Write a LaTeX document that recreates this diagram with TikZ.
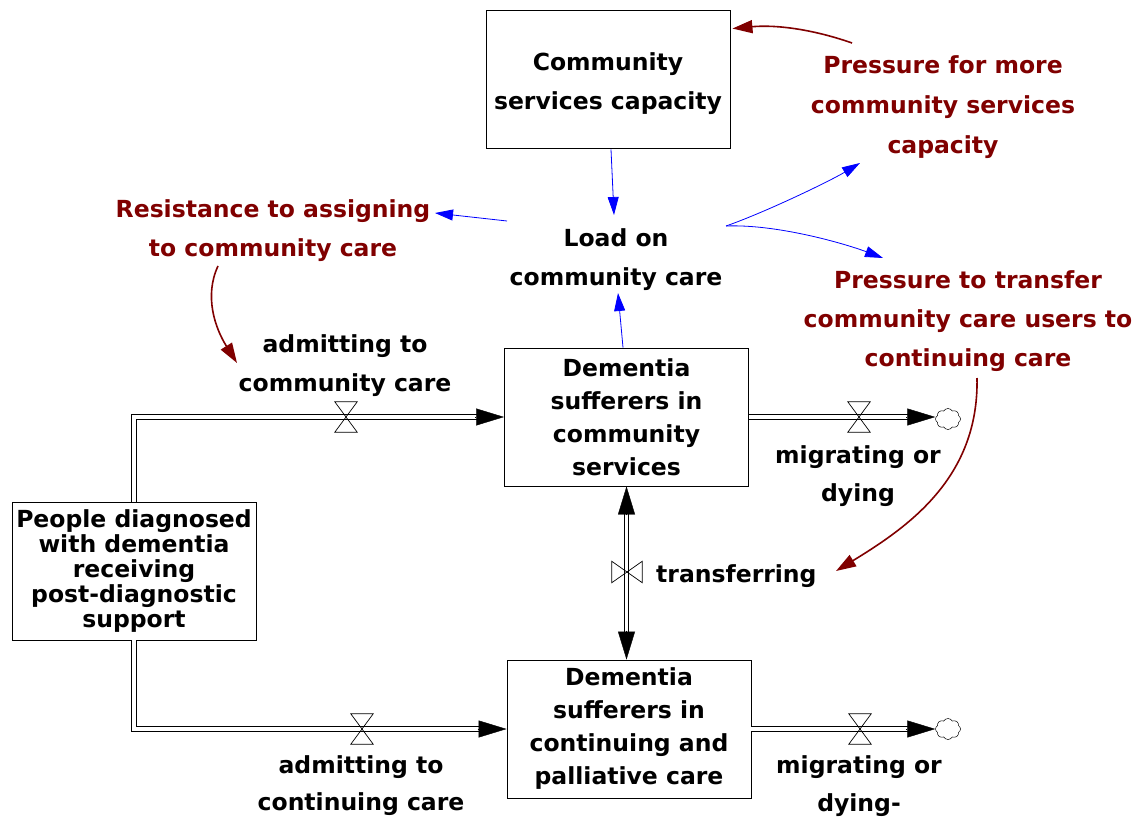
\documentclass[tikz,border=0pt]{standalone}
\usepackage{fontspec}
\setmainfont{DejaVu Sans}
\usetikzlibrary{arrows.meta,shapes.symbols,calc}
\definecolor{linkred}{HTML}{800000}
\definecolor{linkblue}{HTML}{0000FF}

\begin{document}
\begin{tikzpicture}[x=1pt,y=-1pt,
  every node/.style={font=\bfseries\fontsize{23.5}{39}\selectfont, align=center, inner sep=0pt},
  stock/.style={draw, line width=0.9pt, minimum width=244pt, minimum height=138pt},
  redtext/.style={text=linkred},
  valvebox/.style={minimum width=22pt, minimum height=30pt},
  valvehbox/.style={minimum width=30pt, minimum height=21pt},
  valveline/.style={draw, line width=0.7pt},
  pipe/.style={draw, line width=0.9pt, double=white, double distance=3.4pt},
  flowtip/.style={line width=0.4pt, -{Triangle[length=28pt,width=17pt]}},
  sink/.style={cloud, cloud puffs=8, cloud puff arc=120, aspect=1.2, draw, line width=0.5pt,
               minimum width=25pt, minimum height=21pt},
  redlink/.style={draw=linkred, line width=1.6pt, -{Triangle[length=20pt,width=13pt]}, color=linkred},
  bluelink/.style={draw=linkblue, line width=0.8pt, -{Triangle[length=18pt,width=11pt]}, color=linkblue}
]
\useasboundingbox (0,0) rectangle (1139,818);

% stocks
\node[stock] (csc) at (608,79) {};
\node (csctext) at (608,84) {Community\\services capacity};
\node[stock, font=\bfseries\fontsize{23.5}{33}\selectfont] (dsc) at (626.5,417)
  {Dementia\\sufferers in\\community\\services};
\node[stock, font=\bfseries\fontsize{23.5}{33}\selectfont] (dcp) at (629,729)
  {Dementia\\sufferers in\\continuing and\\palliative care};
\node[stock, font=\bfseries\fontsize{23.5}{25}\selectfont] (ppl) at (134,571)
  {People diagnosed\\with dementia\\receiving\\post-diagnostic\\support};

% auxiliaries
\node (load) at (616,260) {Load on\\community care};
\node[redtext, font=\bfseries\fontsize{23.5}{40}\selectfont] (pfm) at (943,107)
  {Pressure for more\\community services\\capacity};
\node[redtext] (ptt) at (968,321)
  {Pressure to transfer\\community care users to\\continuing care};
\node[redtext] (res) at (273,231) {Resistance to assigning\\to community care};

% flow labels
\node (admcc) at (345,366) {admitting to\\community care};
\node[font=\bfseries\fontsize{23.5}{37}\selectfont] (admct) at (361,786) {admitting to\\continuing care};
\node[font=\bfseries\fontsize{23.5}{38}\selectfont] (mig1) at (858,476) {migrating or\\dying};
\node[font=\bfseries\fontsize{23.5}{38}\selectfont] (mig2) at (859,786) {migrating or\\dying-};
\node[anchor=west] (trans) at (656,576) {transferring};

% clouds
\node[sink] (cl1) at (948,419) {};
\node[sink] (cl2) at (948,729) {};

% pipes
\draw[pipe, shorten >=26pt] (ppl.north) |- (dsc.west);
\draw[flowtip] ($(dsc.west)+(-29,0)$) -- (dsc.west);
\draw[pipe, shorten >=26pt] (ppl.south) |- (dcp.west);
\draw[flowtip] ($(dcp.west)+(-29,0)$) -- (dcp.west);
\draw[pipe, shorten >=26pt] (dsc.east) -- (dsc.east -| cl1.west);
\draw[flowtip] ($(dsc.east -| cl1.west)+(-29,0)$) -- (dsc.east -| cl1.west);
\draw[pipe, shorten >=26pt] (dcp.east) -- (dcp.east -| cl2.west);
\draw[flowtip] ($(dcp.east -| cl2.west)+(-29,0)$) -- (dcp.east -| cl2.west);
\draw[pipe, shorten <=26pt, shorten >=26pt] (dsc.south) -- (dsc.south |- dcp.north);
\draw[flowtip] ($(dsc.south)+(0,29)$) -- (dsc.south);
\draw[flowtip] ($(dsc.south |- dcp.north)+(0,-29)$) -- (dsc.south |- dcp.north);

% valves
\node[valvebox] (v1) at (346,417) {};
\node[valvebox] (v2) at (362,729) {};
\node[valvebox] (v3) at (859,417) {};
\node[valvebox] (v4) at (860,729) {};
\node[valvehbox] (vt) at (627,572) {};
\foreach \v in {v1,v2,v3,v4}
  \draw[valveline] (\v.north west) -- (\v.north east) -- (\v.south west) -- (\v.south east) -- cycle;
\draw[valveline] (vt.north west) -- (vt.south west) -- (vt.north east) -- (vt.south east) -- cycle;

% information links
\draw[bluelink] ($(csc.south)+(3,1)$) -- ($(load.center)+(-2,-45)$);
\draw[bluelink] ($(dsc.north)+(-3.5,0)$) -- ($(load.center)+(2,33)$);
\draw[bluelink] ($(load.center)+(-109,-39)$) -- ($(res.center)+(162,-18)$);
\draw[bluelink] ($(load.center)+(110,-34)$) .. controls +(40,-14) and +(-30,18) .. ($(pfm.center)+(-83,56)$);
\draw[bluelink] ($(load.center)+(110,-34)$) .. controls +(50,-2) and +(-40,-15) .. ($(ptt.center)+(-85,-63)$);

\draw[redlink] ($(pfm.center)+(-91,-64)$) .. controls +(-40,-14) and +(43,-4) .. ($(csc.north east)+(2,19)$);
\draw[redlink] ($(ptt.center)+(9,57)$) .. controls +(2,100) and +(72,-44) .. ($(trans.west)+(180,-5)$);
\draw[redlink] ($(res.center)+(-55,35)$) .. controls +(-14,30) and +(-22,-35) .. ($(admcc.center)+(-108,-3)$);
\end{tikzpicture}
\end{document}
